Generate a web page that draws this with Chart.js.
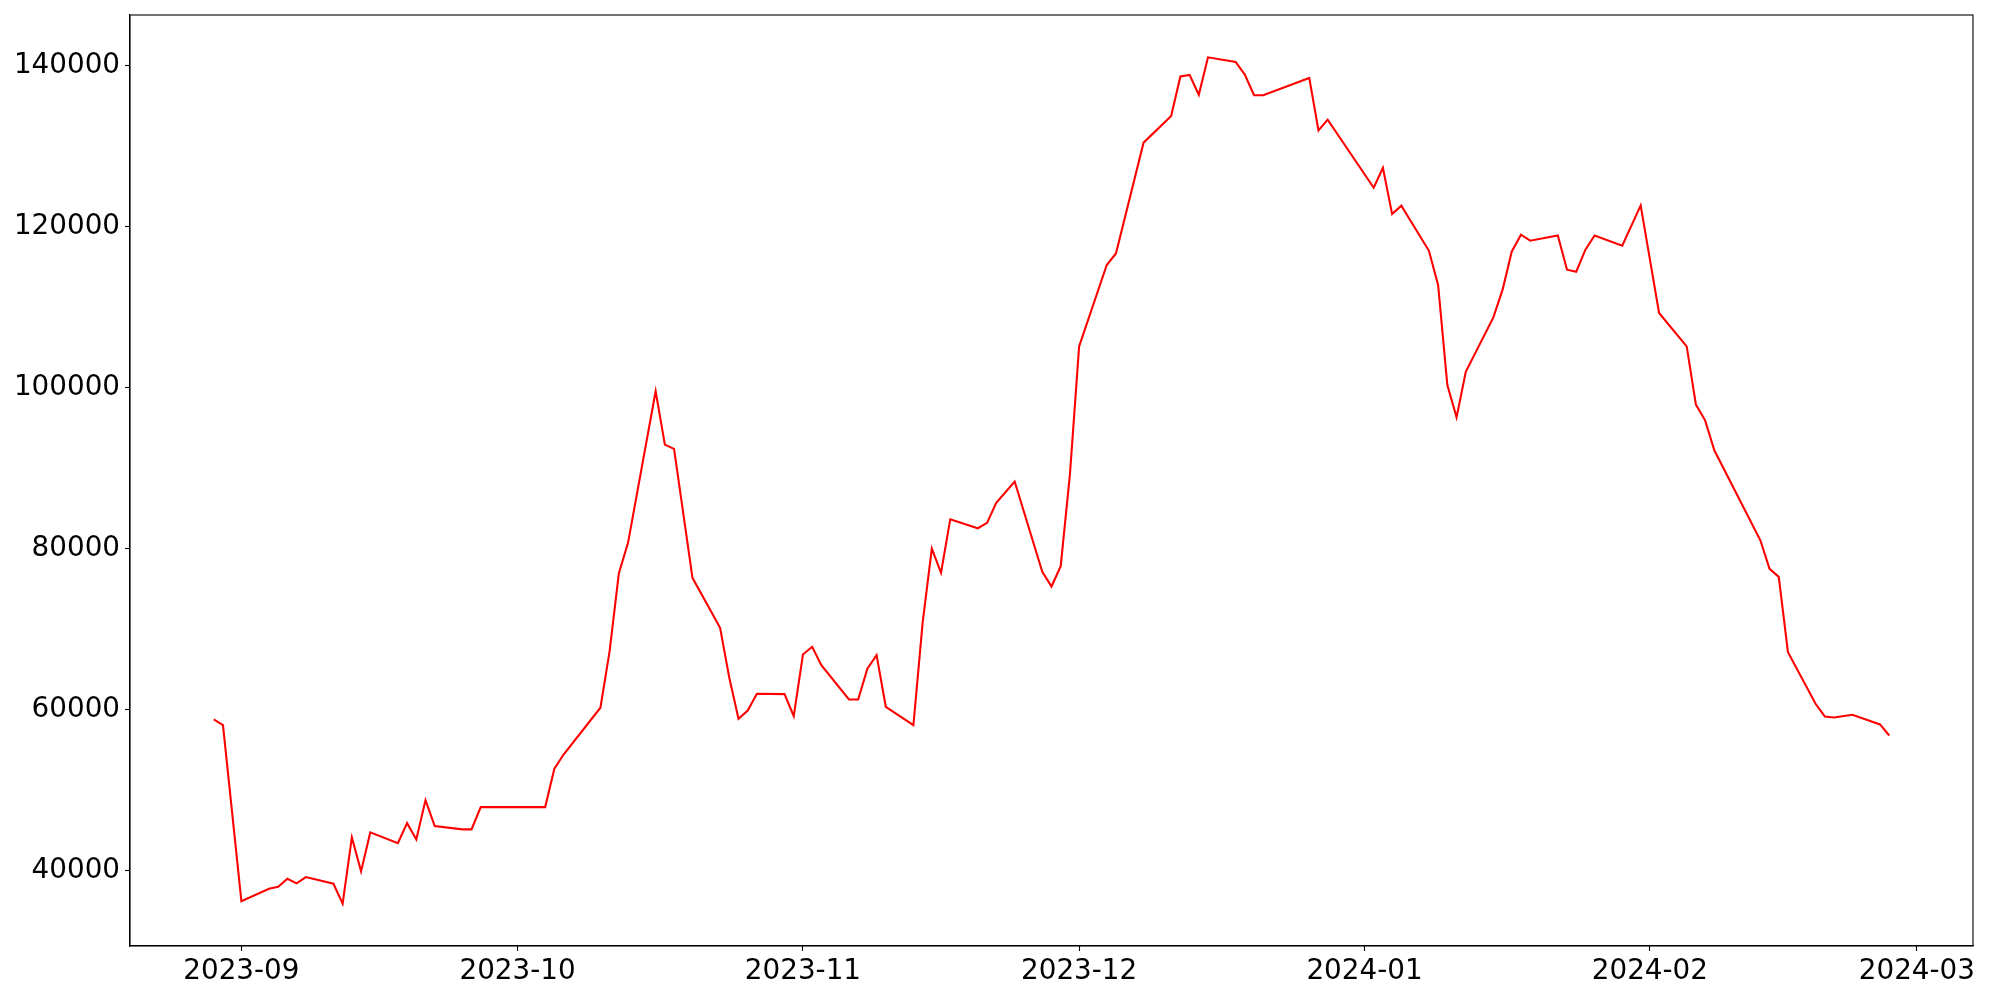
<!DOCTYPE html>
<html>
<head>
<meta charset="utf-8">
<script src="https://cdn.jsdelivr.net/npm/chart.js@4.4.1/dist/chart.umd.min.js"></script>
<style>
html,body{margin:0;padding:0;background:#fff;}
#c{display:block;}
</style>
</head>
<body>
<canvas id="c" width="2000" height="1000" style="width:2000px;height:1000px"></canvas>
<script>
const dates = [
"2023-08-29","2023-08-30","2023-09-01","2023-09-04","2023-09-05","2023-09-06","2023-09-07","2023-09-08",
"2023-09-11","2023-09-12","2023-09-13","2023-09-14","2023-09-15","2023-09-18","2023-09-19","2023-09-20",
"2023-09-21","2023-09-22","2023-09-25","2023-09-26","2023-09-27","2023-10-04","2023-10-05","2023-10-06",
"2023-10-10","2023-10-11","2023-10-12","2023-10-13","2023-10-16","2023-10-17","2023-10-18","2023-10-20",
"2023-10-23","2023-10-24","2023-10-25","2023-10-26","2023-10-27","2023-10-30","2023-10-31","2023-11-01",
"2023-11-02","2023-11-03","2023-11-06","2023-11-07","2023-11-08","2023-11-09","2023-11-10","2023-11-13",
"2023-11-14","2023-11-15","2023-11-16","2023-11-17","2023-11-20","2023-11-21","2023-11-22","2023-11-24",
"2023-11-27","2023-11-28","2023-11-29","2023-11-30","2023-12-01","2023-12-04","2023-12-05","2023-12-08",
"2023-12-11","2023-12-12","2023-12-13","2023-12-14","2023-12-15","2023-12-18","2023-12-19","2023-12-20",
"2023-12-21","2023-12-26","2023-12-27","2023-12-28","2024-01-02","2024-01-03","2024-01-04","2024-01-05",
"2024-01-08","2024-01-09","2024-01-10","2024-01-11","2024-01-12","2024-01-15","2024-01-16","2024-01-17",
"2024-01-18","2024-01-19","2024-01-22","2024-01-23","2024-01-24","2024-01-25","2024-01-26","2024-01-29",
"2024-01-31","2024-02-02","2024-02-05","2024-02-06","2024-02-07","2024-02-08","2024-02-13","2024-02-14",
"2024-02-15","2024-02-16","2024-02-19","2024-02-20","2024-02-21","2024-02-23","2024-02-26","2024-02-27"
];
const values = [
58800,58090,36250,37790,38040,39030,38450,39230,
38410,35930,44160,39940,44780,43450,45930,43910,
48790,45560,45150,45150,47920,47920,52700,54450,
60250,67270,76910,80720,99530,92920,92380,76380,
70170,63970,58880,59910,61990,61940,59210,66860,
67820,65530,61280,61280,65090,66780,60370,58090,
70790,80010,77000,83650,82530,83200,85680,88330,
77120,75300,77820,89200,105100,115210,116640,130400,
133720,138610,138810,136340,140990,140420,138850,136290,
136290,138430,131920,133250,124800,127270,121530,122570,
116970,112700,100300,96300,101940,108710,112150,116900,
118970,118230,118880,114630,114380,117110,118880,117610,
122610,109260,105110,97880,95930,92210,81040,77490,
76500,67150,60740,59170,59040,59380,58180,56810
];
const xTickLabels = ["2023-09","2023-10","2023-11","2023-12","2024-01","2024-02","2024-03"];
const yTickValues = [40000,60000,80000,100000,120000,140000];

function dayNum(s){
  const p = s.split("-").map(Number);
  return Date.UTC(p[0], p[1]-1, p[2] || 1) / 86400000;
}
const xs = dates.map(dayNum);
const pts = xs.map((x,i)=>({x:x, y:values[i]}));
const xTickDays = xTickLabels.map(dayNum);

const xMinD = Math.min(...xs), xMaxD = Math.max(...xs);
const yMinD = Math.min(...values), yMaxD = Math.max(...values);
const xm = 0.05*(xMaxD-xMinD), ym = 0.05*(yMaxD-yMinD);

const FONT = {family:"'DejaVu Sans'", size:27.8};

const frame = {
  id:'frame',
  afterDraw(chart){
    const a = chart.chartArea, ctx = chart.ctx;
    ctx.save();
    ctx.strokeStyle = '#000';
    ctx.lineWidth = 1.1;
    ctx.strokeRect(a.left, a.top, a.right-a.left, a.bottom-a.top);
    ctx.restore();
  }
};

new Chart(document.getElementById('c'), {
  type:'line',
  data:{datasets:[{
    data:pts,
    borderColor:'#ff0000',
    borderWidth:2.08,
    pointRadius:0,
    tension:0,
    fill:false
  }]},
  options:{
    responsive:false,
    animation:false,
    devicePixelRatio:1,
    layout:{padding:{top:15,right:27,left:0,bottom:0}},
    plugins:{legend:{display:false},tooltip:{enabled:false}},
    scales:{
      x:{
        type:'linear',
        min:xMinD-xm, max:xMaxD+xm,
        afterBuildTicks:(s)=>{ s.ticks = xTickDays.map(v=>({value:v})); },
        afterFit:(s)=>{ s.height = 54; s.paddingLeft = 0; s.paddingRight = 0; },
        ticks:{
          autoSkip:false, maxRotation:0, minRotation:0,
          color:'#000', font:FONT, padding:4,
          callback:(v,i)=>xTickLabels[i]
        },
        grid:{drawOnChartArea:false, drawTicks:true, tickLength:5, tickWidth:1.1, tickColor:'#000'},
        border:{display:true, color:'#000', width:1.1}
      },
      y:{
        type:'linear',
        min:yMinD-ym, max:yMaxD+ym,
        afterBuildTicks:(s)=>{ s.ticks = yTickValues.map(v=>({value:v})); },
        afterFit:(s)=>{ s.width = 130; s.paddingTop = 0; s.paddingBottom = 0; },
        ticks:{
          autoSkip:false,
          color:'#000', font:FONT, padding:5,
          callback:(v)=>String(v)
        },
        grid:{drawOnChartArea:false, drawTicks:true, tickLength:5, tickWidth:1.1, tickColor:'#000'},
        border:{display:true, color:'#000', width:1.1}
      }
    }
  },
  plugins:[frame]
});
</script>
</body>
</html>
